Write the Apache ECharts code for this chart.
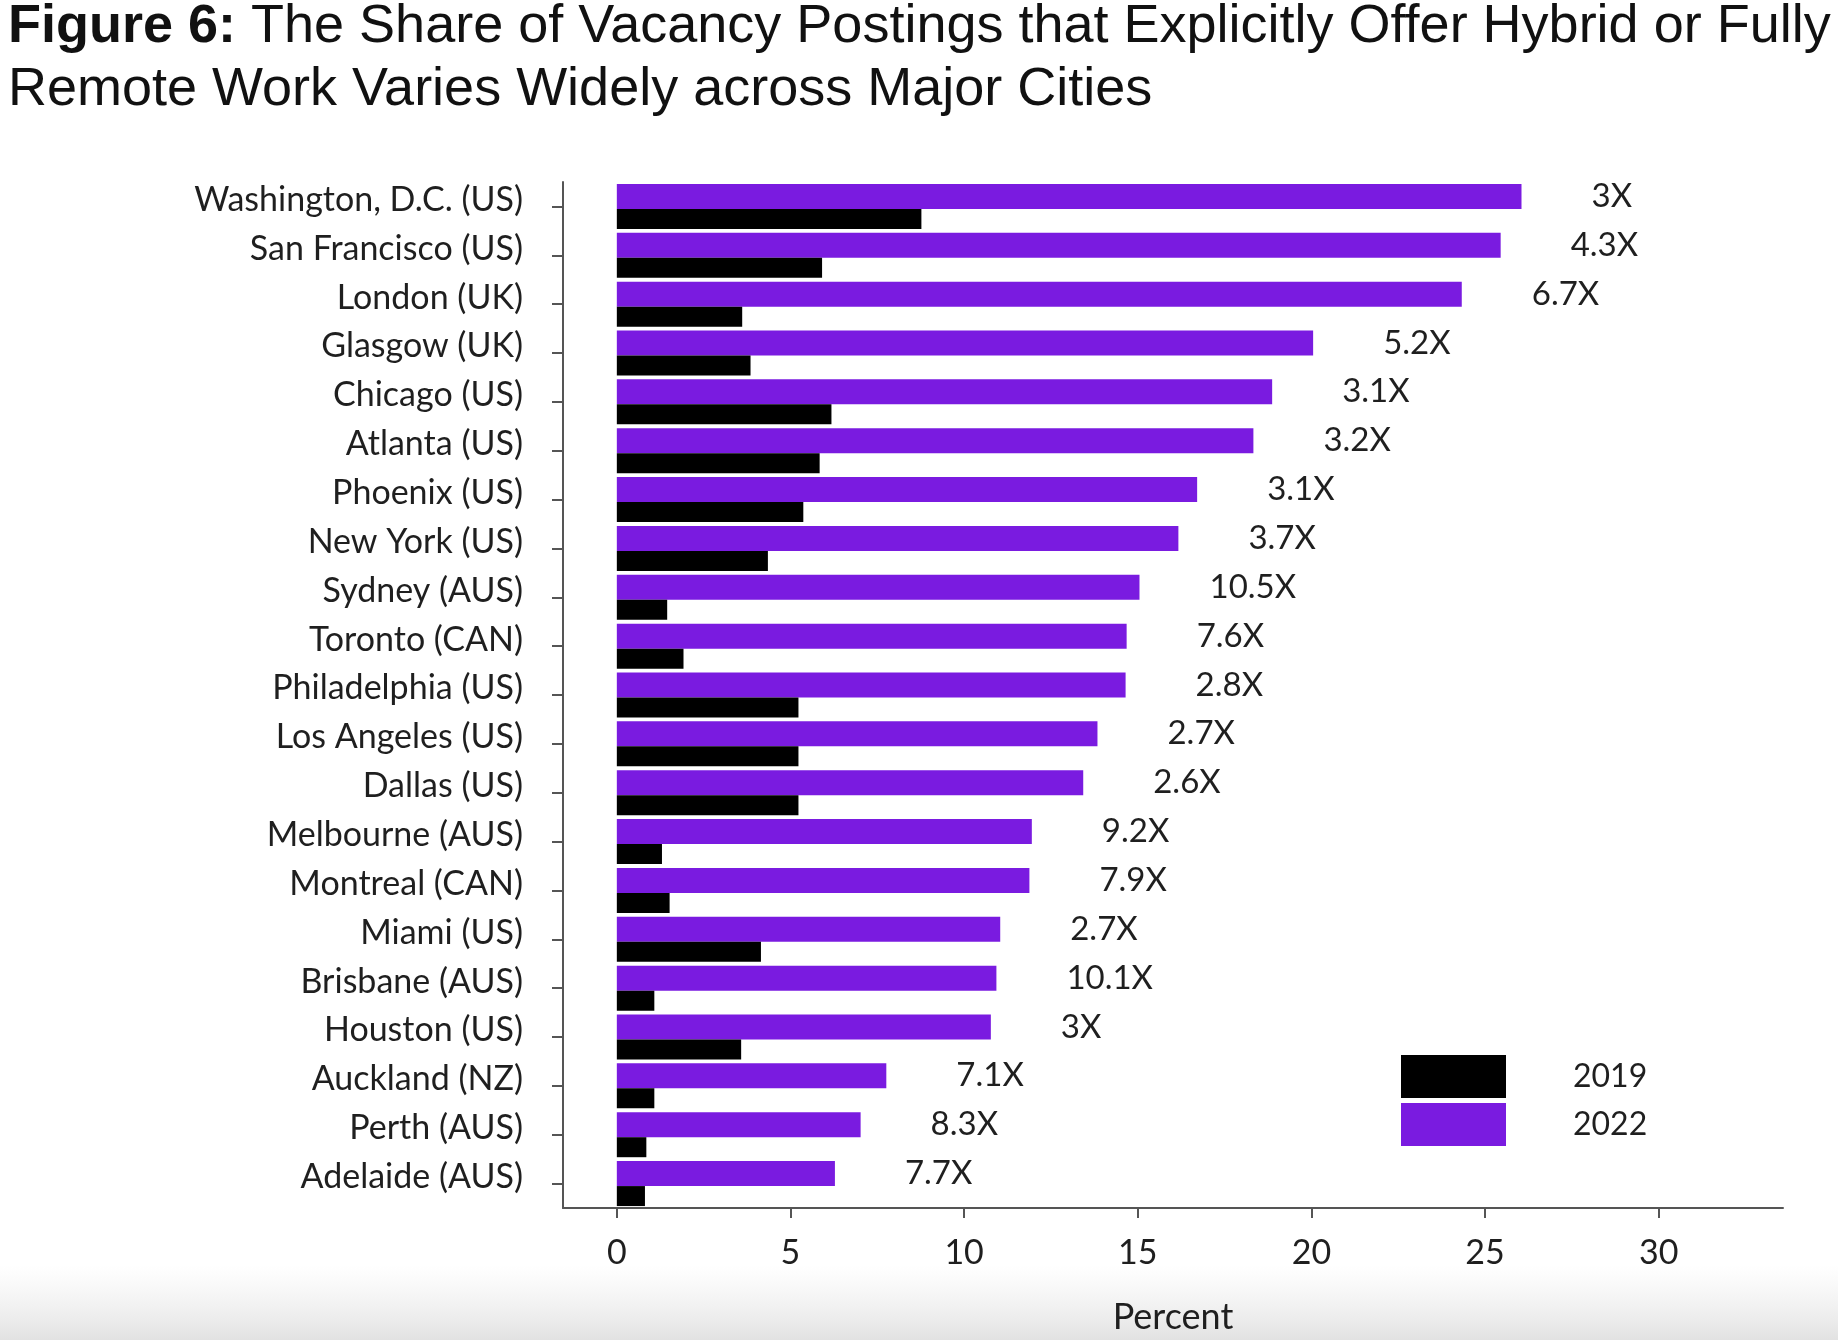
<!DOCTYPE html>
<html>
<head>
<meta charset="utf-8">
<script src="https://cdn.jsdelivr.net/npm/echarts@6/dist/echarts.min.js"></script>
<style>
  html, body { margin: 0; padding: 0; background: #ffffff; }
  #chart { width: 1838px; height: 1340px; }
</style>
</head>
<body>
<div id="chart"></div>
<script>
const cities = [
  'Washington, D.C. (US)', 'San Francisco (US)', 'London (UK)', 'Glasgow (UK)',
  'Chicago (US)', 'Atlanta (US)', 'Phoenix (US)', 'New York (US)', 'Sydney (AUS)',
  'Toronto (CAN)', 'Philadelphia (US)', 'Los Angeles (US)', 'Dallas (US)',
  'Melbourne (AUS)', 'Montreal (CAN)', 'Miami (US)', 'Brisbane (AUS)',
  'Houston (US)', 'Auckland (NZ)', 'Perth (AUS)', 'Adelaide (AUS)'
];
const share2022 = [26.05, 25.45, 24.33, 20.05, 18.87, 18.33, 16.71, 16.17, 15.05,
  14.68, 14.65, 13.84, 13.43, 11.95, 11.88, 11.04, 10.93, 10.77, 7.76, 7.02, 6.28];
const share2019 = [8.77, 5.91, 3.61, 3.85, 6.18, 5.84, 5.37, 4.35, 1.45,
  1.92, 5.23, 5.23, 5.23, 1.3, 1.52, 4.15, 1.08, 3.58, 1.08, 0.85, 0.81];
const ratioLabels = ['3X', '4.3X', '6.7X', '5.2X', '3.1X', '3.2X', '3.1X', '3.7X', '10.5X',
  '7.6X', '2.8X', '2.7X', '2.6X', '9.2X', '7.9X', '2.7X', '10.1X', '3X', '7.1X', '8.3X', '7.7X'];
const xTicks = [0, 5, 10, 15, 20, 25, 30];
const titleBold = 'Figure 6:';
const titleLine1 = ' The Share of Vacancy Postings that Explicitly Offer Hybrid or Fully';
const titleLine2 = 'Remote Work Varies Widely across Major Cities';
const xName = 'Percent';

const FONT = 'Lato';
const TXT = '#1f1f1f';
const AX = '#555555';

const chart = echarts.init(document.getElementById('chart'), null, { renderer: 'canvas' });
chart.setOption({
  backgroundColor: '#ffffff',
  animation: false,
  title: {
    text: '{b|' + titleBold + '}' + titleLine1 + '\n' + titleLine2,
    left: 8,
    top: -4,
    padding: 0,
    textStyle: {
      fontFamily: 'Liberation Sans',
      fontSize: 54,
      fontWeight: 'normal',
      color: '#111',
      lineHeight: 63,
      rich: {
        b: { fontFamily: 'Liberation Sans', fontSize: 54, fontWeight: 'bold', color: '#111', lineHeight: 63 }
      }
    }
  },
  graphic: [{
    type: 'rect',
    silent: true,
    z: -10,
    shape: { x: 0, y: 1265, width: 1838, height: 75 },
    style: {
      fill: new echarts.graphic.LinearGradient(0, 0, 0, 1, [
        { offset: 0, color: 'rgba(235,235,235,0)' },
        { offset: 1, color: 'rgba(226,226,226,1)' }
      ])
    }
  }],
  legend: {
    orient: 'vertical',
    left: 1401,
    top: 1055,
    padding: 0,
    itemWidth: 105,
    itemHeight: 43,
    itemGap: 5,
    icon: 'rect',
    data: ['2019', '2022'],
    textStyle: { fontFamily: FONT, fontSize: 32, color: TXT, padding: [0, 0, 0, 62] }
  },
  grid: { left: 563, right: 55, top: 182, bottom: 123, containLabel: false },
  xAxis: {
    type: 'value',
    min: -1.55,
    max: 33.58,
    name: xName,
    nameLocation: 'middle',
    nameGap: 91,
    nameTextStyle: { fontFamily: FONT, fontSize: 36, color: TXT },
    splitLine: { show: false },
    axisLine: { show: true, lineStyle: { color: AX, width: 2 } },
    axisTick: { show: true, customValues: xTicks, length: 10, lineStyle: { color: AX, width: 2 } },
    axisLabel: { customValues: xTicks, margin: 28, fontFamily: FONT, fontSize: 34, color: TXT }
  },
  yAxis: {
    type: 'category',
    inverse: true,
    data: cities,
    axisLine: { show: true, onZero: false, lineStyle: { color: AX, width: 2 } },
    axisTick: { show: true, alignWithLabel: true, length: 11, interval: 0, lineStyle: { color: AX, width: 2 } },
    axisLabel: {
      interval: 0, margin: 40, fontFamily: FONT, fontSize: 34, color: TXT,
      verticalAlign: 'bottom', lineHeight: 13
    }
  },
  series: [
    {
      name: '2022',
      type: 'bar',
      data: share2022,
      barWidth: 25,
      barGap: '0%',
      itemStyle: { color: '#7a1be0' },
      label: {
        show: true,
        position: 'right',
        distance: 70,
        fontFamily: FONT,
        fontSize: 33,
        color: TXT,
        formatter: p => ratioLabels[p.dataIndex]
      }
    },
    {
      name: '2019',
      type: 'bar',
      data: share2019,
      barWidth: 20,
      barGap: '0%',
      itemStyle: { color: '#000000' }
    }
  ]
});
</script>
</body>
</html>
